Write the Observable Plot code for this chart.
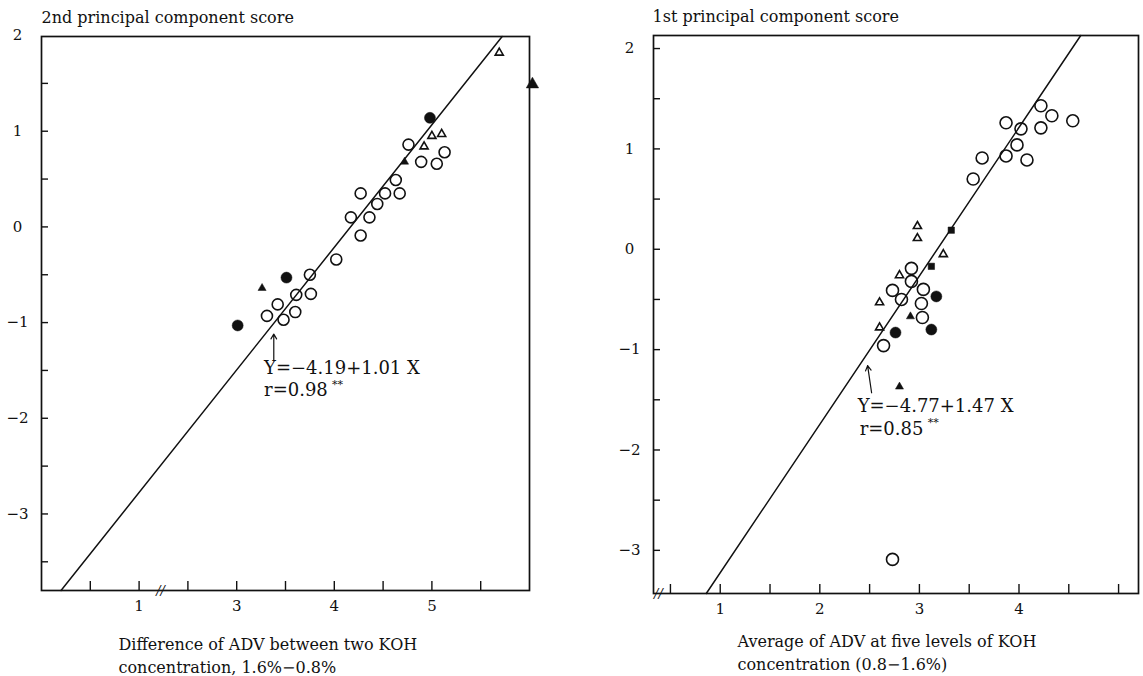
<!DOCTYPE html>
<html>
<head>
<meta charset="utf-8">
<script src="https://cdn.jsdelivr.net/npm/d3@7"></script>
<script src="https://cdn.jsdelivr.net/npm/@observablehq/plot@0.6"></script>
<style>
  html, body { margin: 0; padding: 0; background: #fff; }
  #wrap { display: flex; width: 1143px; height: 676px; }
  svg { font-family: "DejaVu Serif", serif; }
</style>
</head>
<body>
<div id="wrap"></div>
<script>
// ================= LEFT PANEL DATA =================
// x in axis units (left of the "//" break the axis is shifted: position 2 is labelled "1")
const leftYTitle = "2nd principal component score";
const leftXTitle = "Difference of ADV between two KOH\nconcentration, 1.6%\u22120.8%";
const leftOpenCircles = [
  [4.76,0.86],[4.89,0.68],[5.05,0.66],[5.13,0.78],[4.63,0.49],[4.67,0.35],[4.52,0.35],[4.27,0.35],
  [4.44,0.24],[4.17,0.10],[4.36,0.10],[4.27,-0.09],[4.02,-0.34],[3.75,-0.50],[3.76,-0.70],[3.61,-0.71],
  [3.42,-0.81],[3.60,-0.89],[3.31,-0.93],[3.48,-0.97]
];
const leftFilledCircles = [[4.98,1.14],[3.51,-0.53],[3.01,-1.03]];
const leftOpenTriangles = [[5.69,1.82],[4.92,0.84],[5.00,0.95],[5.10,0.97]];
const leftFilledTriangles = [[3.26,-0.64],[4.72,0.68]];
const leftLargeTriangle = [[6.03,1.49]];
const leftFitLine = [[1.20,-3.80],[5.72,1.99]];
const leftEquation = "Y=\u22124.19+1.01 X";
const leftCorr = "r=0.98";
const leftArrow = [[3.38,-1.40,3.38,-1.12]];
const leftEqAt = [3.28,-1.48];
const leftCorrAt = [3.28,-1.71];
const leftBreakAt = [2.22,-3.80];
const leftXDomain = [1.0, 6.0];
const leftYDomain = [-3.80, 1.99];
const leftXTicks = [1.5,2,2.5,3,3.5,4,4.5,5,5.5];
const leftXLabelAt = [2,3,4,5];
const leftXLabels = ["1","3","4","5"];
const leftYTicks = [-3.5,-3,-2.5,-2,-1.5,-1,-0.5,0,0.5,1,1.5];
const leftYLabelAt = [-3,-2,-1,0,1,2];
const leftYLabels = ["\u22123","\u22122","\u22121","0","1","2"];

// ================= RIGHT PANEL DATA =================
const rightYTitle = "1st principal component score";
const rightXTitle = "Average of ADV at five levels of KOH\nconcentration (0.8\u22121.6%)";
const rightOpenCircles = [
  [4.22,1.43],[4.33,1.33],[4.54,1.28],[3.87,1.26],[4.02,1.20],[4.22,1.21],[3.98,1.04],[3.87,0.93],
  [4.08,0.89],[3.63,0.91],[3.54,0.70],[2.92,-0.19],[2.92,-0.32],[2.73,-0.41],[2.82,-0.50],[3.04,-0.40],
  [3.02,-0.54],[3.03,-0.68],[2.64,-0.96],[2.73,-3.09]
];
const rightFilledCircles = [[3.17,-0.47],[3.12,-0.80],[2.76,-0.83]];
const rightFilledSquares = [[3.32,0.19],[3.12,-0.17]];
const rightOpenTriangles = [[2.98,0.23],[2.98,0.11],[3.24,-0.05],[2.80,-0.26],[2.60,-0.53],[2.60,-0.78]];
const rightFilledTriangles = [[2.91,-0.67],[2.80,-1.37]];
const rightFitLine = [[0.86,-3.43],[4.62,2.13]];
const rightEquation = "Y=\u22124.77+1.47 X";
const rightCorr = "r=0.85";
const rightArrow = [[2.52,-1.43,2.48,-1.16]];
const rightEqAt = [2.38,-1.56];
const rightCorrAt = [2.40,-1.79];
const rightBreakAt = [0.38,-3.43];
const rightXDomain = [0.33, 5.20];
const rightYDomain = [-3.43, 2.13];
const rightXTicks = [0.5,1,1.5,2,2.5,3,3.5,4,4.5,5];
const rightXLabelAt = [1,2,3,4];
const rightXLabels = ["1","2","3","4"];
const rightYTicks = [-3,-2.5,-2,-1.5,-1,-0.5,0,0.5,1,1.5,2];
const rightYLabelAt = [-3,-2,-1,0,1,2];
const rightYLabels = ["\u22123","\u22122","\u22121","0","1","2"];

const INK = "#111";
const FONT = '"DejaVu Serif", serif';
const px = d => d[0], py = d => d[1];

function panel(c) {
  const xf = new Map(c.xLabelAt.map((v, i) => [v, c.xLabels[i]]));
  const yf = new Map(c.yLabelAt.map((v, i) => [v, c.yLabels[i]]));
  const marks = [
    Plot.frame({stroke: INK, strokeWidth: 1.7}),
    Plot.axisX(c.xTicks, {tickSize: -9, tickFormat: () => "", stroke: INK, strokeWidth: 1.4}),
    Plot.axisX(c.xLabelAt, {tickSize: 0, tickPadding: 10, tickFormat: d => xf.get(d), fontSize: 15, fill: INK}),
    Plot.axisY(c.yTicks, {tickSize: -7, tickFormat: () => "", stroke: INK, strokeWidth: 1.4}),
    Plot.axisY(c.yLabelAt, {tickSize: 0, tickPadding: 24, textAnchor: "middle", tickFormat: d => yf.get(d), fontSize: 15, fill: INK}),
    Plot.line(c.fit, {x: px, y: py, stroke: INK, strokeWidth: 1.5}),
    Plot.text([c.breakAt], {x: px, y: py, text: () => "//", fontSize: 13, fontStyle: "italic", fill: INK}),
    Plot.arrow(c.arrow, {x1: d => d[0], y1: d => d[1], x2: d => d[2], y2: d => d[3], stroke: INK, strokeWidth: 1.2, headLength: 7}),
    Plot.text([c.eq], {x: () => c.eqAt[0], y: () => c.eqAt[1], text: d => d, textAnchor: "start", lineAnchor: "middle", fontSize: 18, fill: INK}),
    Plot.text([c.corr], {x: () => c.corrAt[0], y: () => c.corrAt[1], text: d => d, textAnchor: "start", lineAnchor: "middle", fontSize: 18, fill: INK}),
    Plot.text(["**"], {x: () => c.corrAt[0], y: () => c.corrAt[1], text: d => d, textAnchor: "start", lineAnchor: "middle", dx: 68, dy: -6, fontSize: 11, fill: INK}),
    Plot.text([c.yTitle], {frameAnchor: "top-left", text: d => d, textAnchor: "start", lineAnchor: "middle", dx: c.yTitleDx, dy: -19, fontSize: 16, fill: INK}),
    Plot.text([c.xTitle], {frameAnchor: "bottom-left", text: d => d, textAnchor: "start", lineAnchor: "middle", dx: c.xTitleDx, dy: c.xTitleDy, lineHeight: 1.4, fontSize: 16, fill: INK})
  ];
  for (const s of c.series) {
    marks.push(Plot.dot(s.data, {x: px, y: py, symbol: s.symbol, r: s.r,
      fill: s.filled ? INK : "none", stroke: INK, strokeWidth: s.filled ? 0.5 : 1.6}));
  }
  return Plot.plot({
    width: c.width, height: 676,
    marginLeft: c.ml, marginRight: c.mr, marginTop: c.mt, marginBottom: c.mb,
    x: {domain: c.xDomain},
    y: {domain: c.yDomain},
    style: {fontFamily: FONT, fontSize: "15px", color: INK, background: "#fff", overflow: "visible"},
    marks
  });
}

const left = panel({
  width: 580, ml: 41, mr: 51, mt: 36, mb: 86,
  xDomain: leftXDomain, yDomain: leftYDomain,
  xTicks: leftXTicks, xLabelAt: leftXLabelAt, xLabels: leftXLabels,
  yTicks: leftYTicks, yLabelAt: leftYLabelAt, yLabels: leftYLabels,
  fit: leftFitLine, breakAt: leftBreakAt, arrow: leftArrow,
  eq: leftEquation, corr: leftCorr, eqAt: leftEqAt, corrAt: leftCorrAt,
  yTitle: leftYTitle, yTitleDx: 0, xTitle: leftXTitle, xTitleDx: 77, xTitleDy: 64,
  series: [
    {data: leftOpenCircles, symbol: "circle", r: 5.5, filled: false},
    {data: leftFilledCircles, symbol: "circle", r: 5.5, filled: true},
    {data: leftOpenTriangles, symbol: "triangle", r: 3, filled: false},
    {data: leftFilledTriangles, symbol: "triangle", r: 3, filled: true},
    {data: leftLargeTriangle, symbol: "triangle", r: 4.6, filled: true}
  ]
});

const right = panel({
  width: 563, ml: 73, mr: 5, mt: 35, mb: 83,
  xDomain: rightXDomain, yDomain: rightYDomain,
  xTicks: rightXTicks, xLabelAt: rightXLabelAt, xLabels: rightXLabels,
  yTicks: rightYTicks, yLabelAt: rightYLabelAt, yLabels: rightYLabels,
  fit: rightFitLine, breakAt: rightBreakAt, arrow: rightArrow,
  eq: rightEquation, corr: rightCorr, eqAt: rightEqAt, corrAt: rightCorrAt,
  yTitle: rightYTitle, yTitleDx: -1, xTitle: rightXTitle, xTitleDx: 84, xTitleDy: 58,
  series: [
    {data: rightOpenCircles, symbol: "circle", r: 6, filled: false},
    {data: rightFilledCircles, symbol: "circle", r: 5.5, filled: true},
    {data: rightFilledSquares, symbol: "square", r: 3.6, filled: true},
    {data: rightOpenTriangles, symbol: "triangle", r: 3, filled: false},
    {data: rightFilledTriangles, symbol: "triangle", r: 3, filled: true}
  ]
});

document.getElementById("wrap").append(left, right);
</script>
</body>
</html>
